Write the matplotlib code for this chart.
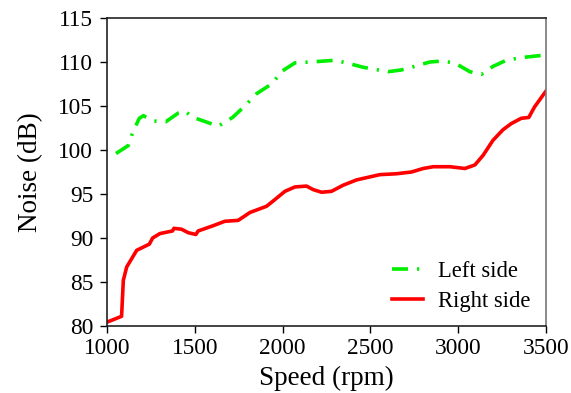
import matplotlib
matplotlib.use("Agg")
import matplotlib.pyplot as plt

plt.rcParams['font.family'] = ['Liberation Serif', 'DejaVu Serif']
plt.rcParams['lines.scale_dashes'] = False

left_speed = [1051, 1121, 1146, 1184, 1207, 1264, 1334, 1406, 1444, 1491, 1563, 1633,
              1715, 1785, 1852, 1937, 2000, 2070, 2155, 2231, 2300, 2383, 2459, 2601,
              2677, 2752, 2838, 2904, 2980, 3066, 3132, 3198, 3274, 3359, 3500]
left_noise = [99.6, 100.5, 102.0, 103.6, 103.9, 103.3, 103.2, 104.2, 104.4, 103.7, 103.2, 102.7,
              103.7, 105.0, 106.4, 107.5, 109.0, 109.9, 110.0, 110.1, 110.2, 109.8, 109.4, 108.9,
              109.1, 109.5, 110.0, 110.1, 109.9, 108.9, 108.6, 109.5, 110.2, 110.5, 110.8]

right_speed = [1008, 1083, 1093, 1112, 1169, 1241, 1260, 1301, 1373, 1381, 1424, 1463,
               1506, 1519, 1605, 1671, 1747, 1814, 1908, 1946, 2013, 2070, 2136, 2174,
               2222, 2278, 2345, 2421, 2554, 2649, 2734, 2801, 2858, 2953, 3038, 3095,
               3142, 3198, 3255, 3302, 3359, 3402, 3435, 3500]
right_noise = [80.5, 81.1, 85.2, 86.7, 88.6, 89.3, 90.0, 90.5, 90.8, 91.1, 91.0, 90.6,
               90.4, 90.8, 91.4, 91.9, 92.0, 92.9, 93.6, 94.2, 95.3, 95.8, 95.9, 95.5,
               95.2, 95.3, 96.0, 96.6, 97.2, 97.3, 97.5, 97.9, 98.1, 98.1, 97.9, 98.3,
               99.4, 101.1, 102.3, 103.0, 103.6, 103.7, 104.9, 106.7]

x_ticks = [1000, 1500, 2000, 2500, 3000, 3500]
y_ticks = [80, 85, 90, 95, 100, 105, 110, 115]

fig = plt.figure(figsize=(5.71, 3.93), dpi=100)
ax = fig.add_axes([0.1874, 0.1705, 0.9562 - 0.1874, 0.9542 - 0.1705])

ax.plot(left_speed, left_noise, color='#00ee00', lw=2.6,
        dashes=(11.5, 6.5, 1.6, 6.5), dash_capstyle='butt', label='Left side')
ax.plot(right_speed, right_noise, color='#ff0000', lw=2.6, label='Right side')

ax.set_xlim(1000, 3500)
ax.set_ylim(80, 115)
ax.set_xticks(x_ticks)
ax.set_yticks(y_ticks)
ax.tick_params(axis='both', direction='out', length=5, width=1, labelsize=16.8, colors='black')
ax.tick_params(axis='y', pad=5)
ax.tick_params(axis='x', pad=3.5)
ax.tick_params(top=False, right=False)
for s in ax.spines.values():
    s.set_linewidth(1.2)
    s.set_color('#222222')
ax.spines['right'].set_color('#777777')

ax.set_xlabel('Speed (rpm)', fontsize=19.5, labelpad=5)
ax.set_ylabel('Noise (dB)', fontsize=19.5, labelpad=11)

ax.legend(loc='lower right', frameon=False, fontsize=16.3, handlelength=1.4,
          handletextpad=0.65, labelspacing=0.42, borderaxespad=0,
          bbox_to_anchor=(0.985, 0.015))

fig.savefig('out.png', dpi=100)
